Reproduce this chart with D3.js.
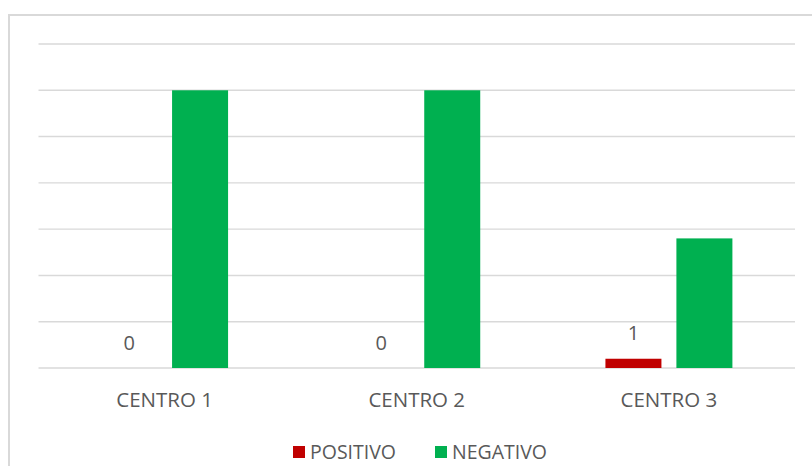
<!DOCTYPE html>
<html lang="es">
<head>
  <meta charset="UTF-8">
  <title>Centros</title>
  <script src="https://d3js.org/d3.v7.min.js"></script>
  <style>
    body { margin: 0; background: #fff; font-family: "Open Sans", "Liberation Sans", sans-serif; }
    svg text { fill: #595959; }
  </style>
</head>
<body>
  <div id="chart"></div>
  <script>
    const categories = ["CENTRO 1", "CENTRO 2", "CENTRO 3"];
    const series = ["POSITIVO", "NEGATIVO"];
    const positivo = [0, 0, 1];
    const negativo = [30, 30, 14];
    const yTicks = [0, 5, 10, 15, 20, 25, 30, 35];

    const colors = {POSITIVO: "#C00000", NEGATIVO: "#00B050"};
    const W = 812, H = 466;
    const plot = {left: 38.5, right: 795, top: 44, bottom: 368};

    const svg = d3.select("#chart").append("svg")
      .attr("width", W).attr("height", H);

    // chart frame (runs off the right and bottom edges)
    svg.append("rect")
      .attr("x", 9).attr("y", 15)
      .attr("width", 900).attr("height", 600)
      .attr("fill", "#fff").attr("stroke", "#d9d9d9").attr("stroke-width", 2);

    const x0 = d3.scaleBand().domain(categories).range([plot.left, plot.right]).padding(0);
    const x1 = d3.scaleBand().domain(series).range([0, x0.bandwidth()])
      .paddingInner(0.211).paddingOuter(0.882);
    const y = d3.scaleLinear().domain([0, 35]).range([plot.bottom, plot.top]);

    // gridlines
    svg.append("g").selectAll("line")
      .data(yTicks)
      .enter().append("line")
      .attr("x1", plot.left).attr("x2", plot.right)
      .attr("y1", d => y(d)).attr("y2", d => y(d))
      .attr("stroke", "#d9d9d9").attr("stroke-width", 1.4);

    const rows = categories.map((c, i) => ({cat: c, POSITIVO: positivo[i], NEGATIVO: negativo[i]}));

    const groups = svg.append("g").selectAll("g")
      .data(rows)
      .enter().append("g")
      .attr("transform", d => `translate(${x0(d.cat)},0)`);

    groups.selectAll("rect")
      .data(d => series.map(s => ({s, v: d[s]})))
      .enter().append("rect")
      .attr("x", d => x1(d.s))
      .attr("y", d => y(d.v))
      .attr("width", x1.bandwidth())
      .attr("height", d => y(0) - y(d.v))
      .attr("fill", d => colors[d.s]);

    // data labels only on POSITIVO
    groups.append("text")
      .attr("x", x1("POSITIVO") + x1.bandwidth() / 2)
      .attr("y", d => y(d.POSITIVO) - 18.5)
      .attr("text-anchor", "middle")
      .attr("font-size", "20px")
      .text(d => d.POSITIVO);

    // category labels
    svg.append("g").selectAll("text")
      .data(categories)
      .enter().append("text")
      .attr("x", d => x0(d) + x0.bandwidth() / 2)
      .attr("y", 407)
      .attr("text-anchor", "middle")
      .attr("font-size", "20.5px")
      .text(d => d);

    // legend
    const legendX = [293, 435];
    const legend = svg.append("g").selectAll("g")
      .data(series)
      .enter().append("g")
      .attr("transform", (d, i) => `translate(${legendX[i]},446)`);
    legend.append("rect")
      .attr("width", 12).attr("height", 12)
      .attr("fill", d => colors[d]);
    legend.append("text")
      .attr("x", 17).attr("y", 13)
      .attr("font-size", "19.5px")
      .text(d => d);
  </script>
</body>
</html>
